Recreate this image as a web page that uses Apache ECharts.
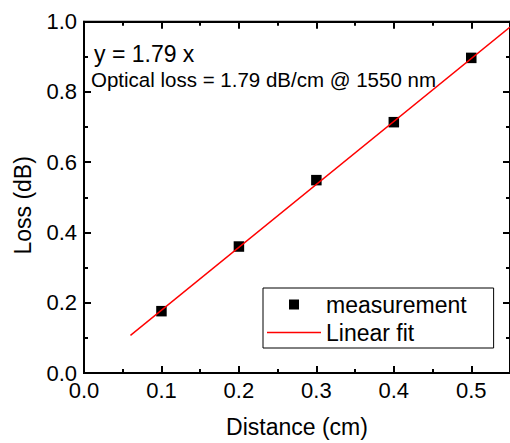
<!DOCTYPE html>
<html>
<head>
<meta charset="utf-8">
<script src="https://cdn.jsdelivr.net/npm/echarts@6/dist/echarts.min.js"></script>
<style>html,body{margin:0;padding:0;background:#fff}#c{width:510px;height:443px}</style>
</head>
<body>
<div id="c"></div>
<script>
// Data
var distance = [0.1, 0.2, 0.3, 0.4, 0.5];
var loss = [0.176, 0.360, 0.549, 0.714, 0.897];
var fitX = [0.06, 0.55];
var fitY = [0.107, 0.9845];
var seriesNames = ['measurement', 'Linear fit'];
var fitText = 'y = 1.79 x';
var noteText = 'Optical loss = 1.79 dB/cm @ 1550 nm';

var FONT = "'Liberation Sans', Arial, sans-serif";
var chart = echarts.init(document.getElementById('c'), null, {renderer: 'svg'});

function xa(grid, pos, interval, len, showLine, showLabel, name) {
  return {
    type: 'value', position: pos, min: 0, max: 0.55, interval: interval,
    gridIndex: grid,
    name: name || '', nameLocation: 'middle', nameGap: 42,
    nameTextStyle: {fontFamily: FONT, fontSize: 23, color: '#000'},
    axisLine: {show: showLine, onZero: false, lineStyle: {color: '#000', width: 2}},
    axisTick: {show: true, inside: true, length: len, lineStyle: {color: '#000', width: 2}},
    axisLabel: {show: showLabel, showMaxLabel: false, margin: 6, fontFamily: FONT, fontSize: 22, color: '#000',
      formatter: function (v) { return v.toFixed(1); }},
    splitLine: {show: false}
  };
}
function ya(grid, pos, interval, len, showLine, showLabel, name) {
  return {
    type: 'value', position: pos, min: 0, max: 1.0, interval: interval,
    gridIndex: grid,
    name: name || '', nameLocation: 'middle', nameGap: 50,
    nameTextStyle: {fontFamily: FONT, fontSize: 23, color: '#000', padding: [0, 16, 0, 0]},
    axisLine: {show: showLine, onZero: false, lineStyle: {color: '#000', width: 2}},
    axisTick: {show: true, inside: true, length: len, lineStyle: {color: '#000', width: 2}},
    axisLabel: {show: showLabel, margin: 7, fontFamily: FONT, fontSize: 22, color: '#000',
      formatter: function (v) { return v.toFixed(1); }},
    splitLine: {show: false}
  };
}

var scatterData = distance.map(function (d, i) { return [d, loss[i]]; });
var fitData = fitX.map(function (d, i) { return [d, fitY[i]]; });
var gridBox = {left: 84, top: 21.7, bottom: 70, right: -6.6};

chart.setOption({
  animation: false,
  animationDuration: 0,
  animationDurationUpdate: 0,
  grid: [
    Object.assign({show: true, borderColor: '#000', borderWidth: 2, backgroundColor: 'transparent'}, gridBox),
    Object.assign({}, gridBox)
  ],
  xAxis: [
    xa(0, 'bottom', 0.1, 7, true, true, 'Distance (cm)'),
    xa(0, 'top', 0.1, 7, true, false),
    xa(1, 'bottom', 0.05, 4, false, false),
    xa(1, 'top', 0.05, 4, false, false)
  ],
  yAxis: [
    ya(0, 'left', 0.2, 7, true, true, 'Loss (dB)'),
    ya(0, 'right', 0.2, 7, true, false),
    ya(1, 'left', 0.1, 4, false, false),
    ya(1, 'right', 0.1, 4, false, false)
  ],
  legend: {
    orient: 'vertical', left: 263, top: 288,
    padding: [5, 27, 4, 4],
    itemWidth: 54, itemHeight: 10, itemGap: 5,
    borderColor: '#000', borderWidth: 1, borderRadius: 0,
    textStyle: {fontFamily: FONT, fontSize: 23, color: '#000', lineHeight: 23},
    data: [
      {name: seriesNames[0], icon: 'path://M22,0H32V10H22ZM0,5L0,5M54,5L54,5',
       itemStyle: {color: '#000', opacity: 1, borderWidth: 0}},
      {name: seriesNames[1], icon: 'path://M0,4.25H54V5.75H0ZM0,0L0,0M54,10L54,10',
       itemStyle: {color: '#ff0000', borderWidth: 0}}
    ]
  },
  graphic: [
    {type: 'text', left: 94, top: 42, style: {text: fitText, font: "23px 'Liberation Sans', Arial, sans-serif", fill: '#000'}},
    {type: 'text', left: 91, top: 69, style: {text: noteText, font: "20.5px 'Liberation Sans', Arial, sans-serif", fill: '#000'}}
  ],
  series: [
    {
      name: seriesNames[1], type: 'line', data: fitData, showSymbol: false, symbol: 'none',
      xAxisIndex: 0, yAxisIndex: 0,
      lineStyle: {color: '#ff0000', width: 1.4}, itemStyle: {color: '#ff0000'}, z: 3
    },
    {
      name: seriesNames[0], type: 'scatter', data: scatterData, symbol: 'rect', symbolSize: 10.5,
      xAxisIndex: 0, yAxisIndex: 0,
      itemStyle: {color: '#000', opacity: 1}, z: 2
    }
  ]
});

// Make sure every element is in its final state (no pending transitions).
(function finishAll() {
  var zr = chart.getZr();
  function visit(el) {
    if (el.stopAnimation) el.stopAnimation(null, true);
    if (el.isGroup && el.childrenRef) el.childrenRef().forEach(visit);
  }
  try { zr.storage.getRoots().forEach(visit); } catch (e) {}
  zr.refreshImmediately && zr.refreshImmediately();
})();
</script>
</body>
</html>
